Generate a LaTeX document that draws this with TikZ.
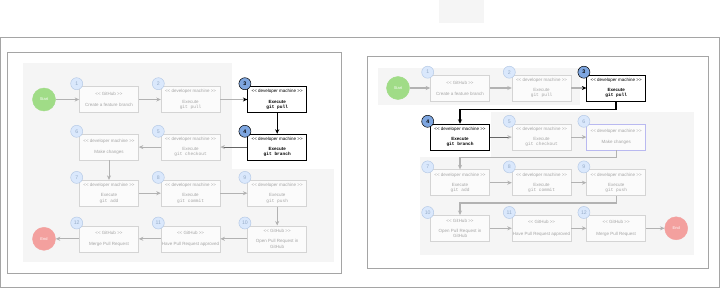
\documentclass[tikz,border=0pt]{standalone}
\usepackage{fontspec}
\setmainfont{Liberation Sans}
\setmonofont{Liberation Mono}
\usetikzlibrary{positioning, arrows.meta}
\definecolor{rim}{RGB}{165,165,165}
\definecolor{backdrop}{RGB}{245,245,245}
\definecolor{faint}{RGB}{212,212,212}
\definecolor{fainttxt}{RGB}{165,165,165}
\definecolor{flowgray}{RGB}{178,178,178}
\definecolor{badgefill}{RGB}{218,232,252}
\definecolor{badgerim}{RGB}{182,202,230}
\definecolor{badgetxt}{RGB}{150,172,200}
\definecolor{badgeblue}{RGB}{126,166,224}
\definecolor{startfill}{RGB}{160,220,135}
\definecolor{endfill}{RGB}{243,160,158}
\definecolor{editrim}{RGB}{185,185,240}
\newcommand{\stereo}[1]{<{}< #1 >{}>}

\begin{document}
\begin{tikzpicture}[
    x=1pt, y=-1pt,
    stagebox/.style={
        draw=#1,
        fill=backdrop!40,
        text=fainttxt,
        line width=0.6pt,
        minimum width=59pt,
        minimum height=26pt,
        inner sep=0.5pt,
        align=center,
        font=\fontsize{4.5}{5.2}\selectfont
    },
    stagebox/.default=faint,
    stagehi/.style={stagebox=black, fill=white, text=black},
    badge/.style={
        circle,
        draw=badgerim,
        fill=badgefill,
        text=badgetxt,
        minimum size=12pt,
        inner sep=0pt,
        line width=0.5pt,
        font=\fontsize{5.2}{6}\selectfont
    },
    badgehi/.style={badge, draw=black, fill=badgeblue, text=black, font=\fontsize{5.2}{6}\selectfont\bfseries},
    terminal/.style={circle, fill=#1, draw=#1, minimum size=23pt, inner sep=0pt, text=white, font=\fontsize{4}{5}\selectfont},
    panel/.style={draw=rim, line width=0.8pt},
    flow/.style={draw=flowgray, line width=#1, -{Stealth[length=4.5pt, width=4pt]}},
    flow/.default=0.8pt,
    flowhi/.style={draw=black, line width=#1, -{Stealth[length=4.5pt, width=4pt]}},
    flowhi/.default=0.8pt,
    intohi/.style={flow=#1, -{Stealth[length=4.5pt, width=4pt, color=black]}},
    intohi/.default=0.8pt,
    outofhi/.style={flow=#1, draw=black!60, -{Stealth[length=4.5pt, width=4pt, color=flowgray]}},
    outofhi/.default=0.8pt
]
\useasboundingbox (0,0) rectangle (720,289);

% === Frame ===
\fill[backdrop] (439,0) rectangle (484,23);
\draw[draw=rim, line width=0.8pt] (0.5,37.5) rectangle (719.5,287.5);

% === Left panel: background ===
\draw[panel] (7.5,52.5) rectangle (341,273);
\fill[backdrop] (23,63) rectangle (232,262);
\fill[backdrop] (222,169) rectangle (334,262);

% === Left panel: steps ===
\node[stagebox] (L1) at (109,99.5) {\stereo{GitHub}\\[6pt]Create a feature branch};
\node[terminal=startfill, left=23.5pt of L1] (L0) {Start};
\node[stagebox, right=22pt of L1] (L2) {\stereo{developer machine}\\[5pt]Execute\\\texttt{git pull}};
\node[stagehi, right=27pt of L2] (L3) {\stereo{developer machine}\\[5pt]\textbf{Execute}\\\texttt{\textbf{git pull}}};
\node[stagehi, below=21pt of L3] (L4) {\stereo{developer machine}\\[5pt]\textbf{Execute}\\\texttt{\textbf{git branch}}};
\node[stagebox, left=27pt of L4] (L5) {\stereo{developer machine}\\[5pt]Execute\\\texttt{git checkout}};
\node[stagebox, left=22pt of L5] (L6) {\stereo{developer machine}\\[6pt]Make changes};
\node[stagebox, below=19.5pt of L6] (L7) {\stereo{developer machine}\\[5pt]Execute\\\texttt{git add}};
\node[stagebox, right=22pt of L7] (L8) {\stereo{developer machine}\\[5pt]Execute\\\texttt{git commit}};
\node[stagebox, right=27pt of L8] (L9) {\stereo{developer machine}\\[5pt]Execute\\\texttt{git push}};
\node[stagebox, below=19pt of L9] (L10) {\stereo{GitHub}\\[5pt]Open Pull Request in\\GitHub};
\node[stagebox, left=27pt of L10] (L11) {\stereo{GitHub}\\[6pt]Have Pull Request approved};
\node[stagebox, left=22pt of L11] (L12) {\stereo{GitHub}\\[6pt]Merge Pull Request};
\node[terminal=endfill, left=23.5pt of L12] (LE) {End};

% === Left panel: badges ===
\node[badge] (bL1) at ([shift={(-2.5,-2.5)}]L1.north west) {1};
\node[badge] (bL2) at ([shift={(-2.5,-2.5)}]L2.north west) {2};
\node[badgehi] (bL3) at ([shift={(-2.5,-2.5)}]L3.north west) {3};
\node[badgehi] (bL4) at ([shift={(-2.5,-2.5)}]L4.north west) {4};
\node[badge] (bL5) at ([shift={(-2.5,-2.5)}]L5.north west) {5};
\node[badge] (bL6) at ([shift={(-2.5,-2.5)}]L6.north west) {6};
\node[badge] (bL7) at ([shift={(-2.5,-2.5)}]L7.north west) {7};
\node[badge] (bL8) at ([shift={(-2.5,-2.5)}]L8.north west) {8};
\node[badge] (bL9) at ([shift={(-2.5,-2.5)}]L9.north west) {9};
\node[badge] (bL10) at ([shift={(-2.5,-2.5)}]L10.north west) {10};
\node[badge] (bL11) at ([shift={(-2.5,-2.5)}]L11.north west) {11};
\node[badge] (bL12) at ([shift={(-2.5,-2.5)}]L12.north west) {12};

% === Left panel: arrows ===
\draw[flow] (L0) -- (L1);
\draw[flow] (L1) -- (L2);
\draw[intohi] (L2) -- (L3);
\draw[flowhi] (L3) -- (L4);
\draw[outofhi] (L4) -- (L5);
\draw[flow] (L5) -- (L6);
\draw[flow] (L6) -- (L7);
\draw[flow] (L7) -- (L8);
\draw[flow] (L8) -- (L9);
\draw[flow] (L9) -- (L10);
\draw[flow] (L10) -- (L11);
\draw[flow] (L11) -- (L12);
\draw[flow] (L12) -- (LE);

% === Right panel: background ===
\draw[panel] (367,56.5) rectangle (708.5,268);
\fill[backdrop] (378,68) rectangle (580,105);
\fill[backdrop] (491,112) rectangle (694,255);
\fill[backdrop] (420,157) rectangle (694,255);

% === Right panel: steps ===
\node[stagebox] (R1) at (460,88) {\stereo{GitHub}\\[6pt]Create a feature branch};
\node[terminal=startfill, left=20.5pt of R1] (R0) {Start};
\node[stagebox, right=22pt of R1] (R2) {\stereo{developer machine}\\[5pt]Execute\\\texttt{git pull}};
\node[stagehi, right=15pt of R2] (R3) {\stereo{developer machine}\\[5pt]\textbf{Execute}\\\texttt{\textbf{git pull}}};
\node[stagehi, below=22.5pt of R1] (R4) {\stereo{developer machine}\\[5pt]\textbf{Execute}\\\texttt{\textbf{git branch}}};
\node[stagebox, right=22pt of R4] (R5) {\stereo{developer machine}\\[5pt]Execute\\\texttt{git checkout}};
\node[stagebox=editrim, right=15pt of R5] (R6) {\stereo{developer machine}\\[6pt]Make changes};
\node[stagebox, below=19pt of R4] (R7) {\stereo{developer machine}\\[5pt]Execute\\\texttt{git add}};
\node[stagebox, right=22pt of R7] (R8) {\stereo{developer machine}\\[5pt]Execute\\\texttt{git commit}};
\node[stagebox, right=15pt of R8] (R9) {\stereo{developer machine}\\[5pt]Execute\\\texttt{git push}};
\node[stagebox, below=19pt of R7] (R10) {\stereo{GitHub}\\[5pt]Open Pull Request in\\GitHub};
\node[stagebox, right=22pt of R10] (R11) {\stereo{GitHub}\\[6pt]Have Pull Request approved};
\node[stagebox, right=15pt of R11] (R12) {\stereo{GitHub}\\[6pt]Merge Pull Request};
\node[terminal=endfill, right=18.5pt of R12] (RE) {End};

% === Right panel: badges ===
\node[badge] (bR1) at ([shift={(-2.5,-2.5)}]R1.north west) {1};
\node[badge] (bR2) at ([shift={(-2.5,-2.5)}]R2.north west) {2};
\node[badgehi] (bR3) at ([shift={(-2.5,-2.5)}]R3.north west) {3};
\node[badgehi] (bR4) at ([shift={(-2.5,-2.5)}]R4.north west) {4};
\node[badge] (bR5) at ([shift={(-2.5,-2.5)}]R5.north west) {5};
\node[badge] (bR6) at ([shift={(-2.5,-2.5)}]R6.north west) {6};
\node[badge] (bR7) at ([shift={(-2.5,-2.5)}]R7.north west) {7};
\node[badge] (bR8) at ([shift={(-2.5,-2.5)}]R8.north west) {8};
\node[badge] (bR9) at ([shift={(-2.5,-2.5)}]R9.north west) {9};
\node[badge] (bR10) at ([shift={(-2.5,-2.5)}]R10.north west) {10};
\node[badge] (bR11) at ([shift={(-2.5,-2.5)}]R11.north west) {11};
\node[badge] (bR12) at ([shift={(-2.5,-2.5)}]R12.north west) {12};

% === Right panel: arrows ===
\draw[flow=1.2pt] (R0) -- (R1);
\draw[flow=1.2pt] (R1) -- (R2);
\draw[intohi=1.2pt] (R2) -- (R3);
\draw[flowhi=1.6pt] (R3.south) -- ++(0,8) -| (R4.north);
\draw[outofhi=1.2pt] (R4) -- (R5);
\draw[flow=1.2pt] (R5) -- (R6);
\draw[flow=1.2pt] (R6.south) -- ++(0,7) -| (R7.north);
\draw[flow=1.2pt] (R7) -- (R8);
\draw[flow=1.2pt] (R8) -- (R9);
\draw[flow=1.2pt] (R9.south) -- ++(0,7) -| (R10.north);
\draw[flow=1.2pt] (R10) -- (R11);
\draw[flow=1.2pt] (R11) -- (R12);
\draw[flow=1.2pt] (R12) -- (RE);

\end{tikzpicture}
\end{document}
